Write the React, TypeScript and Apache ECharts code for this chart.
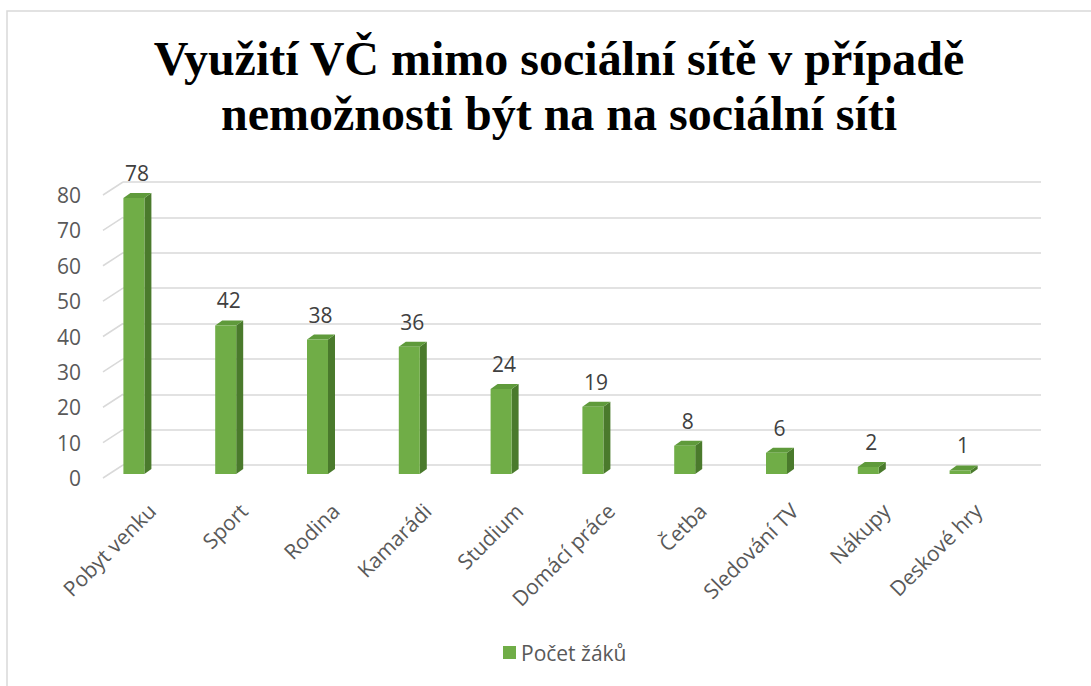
import React, { useEffect, useRef } from "react";
import * as echarts from "echarts";

const categories = ["Pobyt venku", "Sport", "Rodina", "Kamarádi", "Studium", "Domácí práce", "Četba", "Sledování TV", "Nákupy", "Deskové hry"];
const values = [78, 42, 38, 36, 24, 19, 8, 6, 2, 1];
const yTicks = [0, 10, 20, 30, 40, 50, 60, 70, 80];
const seriesName = "Počet žáků";
const titleText = "Využití VČ mimo sociální sítě v případě\nnemožnosti být na na sociální síti";

const GREEN = "#70ad47";
const SIDE = "#4a7a2c";
const TOP = "#5f9a3b";
const GRID = "#d9d9d9";
const TXT = "#595959";
const FONT = "Open Sans";

export default function App() {
  const ref = useRef<HTMLDivElement>(null);
  useEffect(() => {
    if (!ref.current) return;
    const chart = echarts.init(ref.current, null, { renderer: "svg" });
    const H = 283;
    const W = 918;
    const option: any = {
      animation: false,
      backgroundColor: "#ffffff",
      title: {
        text: titleText,
        left: 559,
        textAlign: "center",
        top: 31,
        padding: 0,
        textStyle: { fontFamily: "Liberation Serif", fontWeight: "bold", fontSize: 48, lineHeight: 55, color: "#000000" },
      },
      graphic: [
        { type: "rect", shape: { x: 7, y: 11, width: 1200, height: 800 }, style: { fill: "none", stroke: GRID, lineWidth: 1.5 }, silent: true },
      ],
      legend: {
        data: [seriesName],
        left: 498,
        top: 637,
        icon: "rect",
        itemWidth: 13,
        itemHeight: 13,
        itemGap: 8,
        textStyle: { fontFamily: FONT, fontSize: 21, color: TXT },
      },
      grid: [
        { left: 123, top: 182, width: W, height: H },
        { left: 103, top: 195, width: W, height: H },
        { left: 88, top: 191, width: W, height: H },
        { left: 106, top: 195, width: W, height: H },
      ],
      xAxis: [
        { gridIndex: 0, type: "category", data: categories, show: false },
        { gridIndex: 1, type: "value", min: 0, max: 1, show: false },
        { gridIndex: 2, type: "category", data: categories, show: false },
        {
          gridIndex: 3, type: "category", data: categories,
          axisLine: { show: false }, axisTick: { show: false },
          axisLabel: { rotate: 45, margin: 29, fontFamily: FONT, fontSize: 21, color: TXT, interval: 0 },
        },
      ],
      yAxis: [
        {
          gridIndex: 0, type: "value", min: 0, max: 80, interval: 10,
          axisLine: { show: false }, axisTick: { show: false }, axisLabel: { show: false },
          splitLine: { show: true, lineStyle: { color: GRID, width: 1.5 } },
        },
        {
          gridIndex: 1, type: "value", min: 0, max: 80, interval: 10,
          axisLine: { show: false }, axisTick: { show: false }, splitLine: { show: false },
          axisLabel: { margin: 22, fontFamily: FONT, fontSize: 21, color: TXT },
        },
        { gridIndex: 2, type: "value", min: 0, max: 80, interval: 10, show: false },
        { gridIndex: 3, type: "value", min: 0, max: 80, interval: 10, show: false },
      ],
      series: [
        {
          type: "custom",
          name: "diag",
          xAxisIndex: 1,
          yAxisIndex: 1,
          clip: false,
          silent: true,
          data: yTicks.map((v) => [0, v]),
          renderItem: (params: any, api: any) => {
            const p = api.coord([0, api.value(1)]);
            return {
              type: "line",
              shape: { x1: p[0], y1: p[1], x2: p[0] + 20, y2: p[1] - 13 },
              style: { stroke: GRID, lineWidth: 1.5 },
            };
          },
        },
        {
          type: "custom",
          name: seriesName,
          xAxisIndex: 2,
          yAxisIndex: 2,
          clip: false,
          itemStyle: { color: GREEN },
          data: values.map((v, i) => [i, v]),
          renderItem: (params: any, api: any) => {
            const i = api.value(0);
            const v = api.value(1);
            const base = api.coord([i, 0]);
            const top = api.coord([i, v]);
            const w = 21;
            const dx = 7;
            const dy = -5;
            const x = base[0] - w / 2;
            const yb = base[1];
            const yt = top[1];
            return {
              type: "group",
              children: [
                {
                  type: "polygon",
                  shape: { points: [[x + w, yt], [x + w + dx, yt + dy], [x + w + dx, yb + dy], [x + w, yb]] },
                  style: { fill: SIDE },
                },
                {
                  type: "polygon",
                  shape: { points: [[x, yt], [x + dx, yt + dy], [x + w + dx, yt + dy], [x + w, yt]] },
                  style: { fill: TOP },
                },
                { type: "rect", shape: { x: x, y: yt, width: w, height: yb - yt }, style: { fill: GREEN } },
                {
                  type: "text",
                  style: {
                    text: String(v), x: base[0] + 3, y: yt - 25, align: "center", verticalAlign: "middle",
                    fontFamily: FONT, fontSize: 21, fill: "#404040",
                  },
                },
              ],
            };
          },
        },
      ],
    };
    chart.setOption(option);
    return () => chart.dispose();
  }, []);
  return <div ref={ref} style={{ position: "fixed", left: 0, top: 0, width: 1091, height: 686 }} />;
}
